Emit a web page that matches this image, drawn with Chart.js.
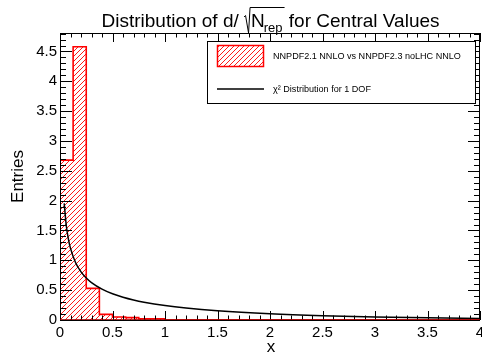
<!DOCTYPE html>
<html><head><meta charset="utf-8">
<script src="https://cdn.jsdelivr.net/npm/chart.js@4.4.1/dist/chart.umd.min.js"></script>
<style>html,body{margin:0;padding:0;background:#fff;overflow:hidden}canvas{display:block}</style>
</head><body>
<canvas id="c" width="482" height="359"></canvas>
<script>
// ---- data ----
const binEdges = [0, 0.125, 0.25, 0.375, 0.5, 0.625, 0.75, 0.875, 1.0];
const binValues = [2.68, 4.58, 0.53, 0.095, 0.05, 0.04, 0.02, 0.02];
const chi2X = [0.04, 0.06, 0.08, 0.1, 0.15, 0.2, 0.25, 0.3, 0.4, 0.5, 0.6, 0.7, 0.8, 1.0, 1.2, 1.5, 2.0, 2.5, 3.0, 3.5, 4.0];
const chi2Y = [1.955, 1.58, 1.355, 1.2, 0.956, 0.807, 0.704, 0.627, 0.517, 0.439, 0.382, 0.336, 0.299, 0.242, 0.2, 0.154, 0.104, 0.072, 0.051, 0.037, 0.027];
const xTicks = [0, 0.5, 1, 1.5, 2, 2.5, 3, 3.5, 4];
const yTicks = [0, 0.5, 1, 1.5, 2, 2.5, 3, 3.5, 4, 4.5];
const xRange = [0, 4];
const yRange = [0, 4.81];
const histLabel = "NNPDF2.1 NNLO vs NNPDF2.3 noLHC NNLO";
const curveLabel = "χ² Distribution for 1 DOF";
const xTitle = "x";
const yTitle = "Entries";
const titleParts = {pre: "Distribution of d/ ", rad: "N", sub: "rep", post: " for Central Values"};

// ---- build ----
const FONT = "'Liberation Sans', Arial, Helvetica, sans-serif";
const histPoints = [{x: binEdges[0], y: 0}];
binValues.forEach((v, i) => histPoints.push({x: binEdges[i], y: v}));
histPoints.push({x: binEdges[binEdges.length - 1], y: 0});
histPoints.push({x: xRange[1], y: 0});
const curvePoints = chi2X.map((x, i) => ({x, y: chi2Y[i]}));

function hatch() {
  const p = document.createElement('canvas');
  p.width = 5; p.height = 5;
  const g = p.getContext('2d');
  g.strokeStyle = '#ff0000'; g.lineWidth = 0.9;
  g.beginPath();
  g.moveTo(0, 5); g.lineTo(5, 0);
  g.moveTo(-1, 1); g.lineTo(1, -1);
  g.moveTo(4, 6); g.lineTo(6, 4);
  g.stroke();
  return document.getElementById('c').getContext('2d').createPattern(p, 'repeat');
}
const hatchPattern = hatch();

function minorRange(a, b, step) {
  const out = [];
  const n = Math.round((b - a) / step);
  for (let i = 0; i <= n; i++) out.push(+(a + i * step).toFixed(6));
  return out;
}
const fmt = v => String(+(+v).toFixed(2));

const decor = {
  id: 'decor',
  afterDatasetsDraw(chart) {
    const ctx = chart.ctx, ca = chart.chartArea;
    const xs = chart.scales.x, ys = chart.scales.y;
    ctx.save();
    ctx.strokeStyle = '#000'; ctx.lineWidth = 1;
    ctx.strokeRect(ca.left + 0.5, ca.top + 0.5, ca.right - ca.left - 1, ca.bottom - ca.top);
    ctx.beginPath();
    minorRange(xRange[0], xRange[1], 0.1).forEach(v => {
      const px = Math.round(xs.getPixelForValue(v)) + 0.5;
      const major = xTicks.some(t => Math.abs(t - v) < 1e-6);
      const L = major ? 9 : 4.5;
      ctx.moveTo(px, ca.bottom); ctx.lineTo(px, ca.bottom - L);
      ctx.moveTo(px, ca.top); ctx.lineTo(px, ca.top + L);
    });
    minorRange(yRange[0], 4.8, 0.1).forEach(v => {
      const py = Math.round(ys.getPixelForValue(v)) + 0.5;
      const major = yTicks.some(t => Math.abs(t - v) < 1e-6);
      const L = major ? 12 : 6;
      ctx.moveTo(ca.left, py); ctx.lineTo(ca.left + L, py);
      ctx.moveTo(ca.right, py); ctx.lineTo(ca.right - L, py);
    });
    ctx.stroke();
    ctx.strokeStyle = 'rgba(160,0,0,0.8)';
    ctx.beginPath();
    ctx.moveTo(ca.left, ca.bottom - 0.5); ctx.lineTo(ca.right, ca.bottom - 0.5);
    ctx.stroke();
    ctx.restore();
  },
  afterDraw(chart) {
    const ctx = chart.ctx, ca = chart.chartArea;
    ctx.save();
    ctx.fillStyle = '#000';
    ctx.font = '17px ' + FONT;
    ctx.textAlign = 'center'; ctx.textBaseline = 'middle';
    ctx.fillText(xTitle, (ca.left + ca.right) / 2 + 1, 347);
    ctx.save();
    ctx.translate(18, (ca.top + ca.bottom) / 2);
    ctx.rotate(-Math.PI / 2);
    ctx.fillText(yTitle, 0, 0);
    ctx.restore();

    // title
    const big = '19px ' + FONT, small = '13px ' + FONT;
    ctx.textAlign = 'left'; ctx.textBaseline = 'alphabetic';
    ctx.font = big;
    const w1 = ctx.measureText(titleParts.pre).width;
    const wN = ctx.measureText(titleParts.rad).width;
    const w3 = ctx.measureText(titleParts.post).width;
    ctx.font = small;
    const wS = ctx.measureText(titleParts.sub).width;
    const radW = 7;
    const total = w1 + radW + wN + wS + w3;
    let x = 270.5 - total / 2;
    const base = 27;
    ctx.font = big;
    ctx.fillText(titleParts.pre, x, base);
    x += w1;
    ctx.strokeStyle = '#000'; ctx.lineWidth = 1;
    ctx.beginPath();
    ctx.moveTo(x, 17); ctx.lineTo(x + 1.5, 15.5);
    ctx.lineTo(x + 4.5, 33); ctx.lineTo(x + 6, 7.5);
    ctx.lineTo(x + radW + wN + wS + 1, 7.5);
    ctx.stroke();
    x += radW;
    ctx.fillText(titleParts.rad, x, base);
    x += wN - 1;
    ctx.font = small;
    ctx.fillText(titleParts.sub, x, base + 5);
    x += wS + 1;
    ctx.font = big;
    ctx.fillText(titleParts.post, x, base);

    // legend
    const lx = 207, ly = 41, lw = 268, lh = 62;
    ctx.fillStyle = '#fff';
    ctx.fillRect(lx, ly, lw, lh);
    ctx.strokeStyle = '#000'; ctx.lineWidth = 1;
    ctx.strokeRect(lx + 0.5, ly + 0.5, lw, lh);
    ctx.fillStyle = hatchPattern;
    ctx.fillRect(217, 45, 47, 22);
    ctx.strokeStyle = '#ff0000'; ctx.lineWidth = 1.5;
    ctx.strokeRect(217.5, 45.5, 46, 21);
    ctx.strokeStyle = '#000'; ctx.lineWidth = 1.5;
    ctx.beginPath(); ctx.moveTo(217, 89); ctx.lineTo(264, 89); ctx.stroke();
    ctx.fillStyle = '#000';
    ctx.font = '10px ' + FONT;
    const w10 = ctx.measureText(histLabel).width;
    const fs = Math.min(10, 10 * 188 / w10);
    ctx.font = fs.toFixed(2) + 'px ' + FONT;
    ctx.textBaseline = 'middle';
    ctx.fillText(histLabel, 273, 56.5);
    ctx.fillText(curveLabel, 273, 89.5);
    ctx.restore();
  }
};

new Chart(document.getElementById('c'), {
  type: 'line',
  data: {
    datasets: [
      {
        label: histLabel,
        data: histPoints,
        stepped: 'before',
        borderColor: '#ff0000',
        borderWidth: 1.6,
        backgroundColor: hatchPattern,
        fill: 'origin',
        pointRadius: 0,
        order: 2
      },
      {
        label: curveLabel,
        data: curvePoints,
        borderColor: '#000000',
        borderWidth: 1.5,
        cubicInterpolationMode: 'monotone',
        pointRadius: 0,
        fill: false,
        order: 1
      }
    ]
  },
  options: {
    responsive: false,
    animation: false,
    devicePixelRatio: 1,
    layout: {padding: {top: 33, right: 2, left: 0, bottom: 0}},
    plugins: {legend: {display: false}, tooltip: {enabled: false}, title: {display: false}},
    scales: {
      x: {
        type: 'linear', min: xRange[0], max: xRange[1],
        grid: {display: false, drawTicks: false}, border: {display: false},
        ticks: {font: {size: 15, family: FONT}, color: '#000', padding: 4, maxRotation: 0, autoSkip: false, callback: fmt},
        afterBuildTicks: s => { s.ticks = xTicks.map(v => ({value: v})); },
        afterFit: s => { s.height = 39; s.paddingLeft = 0; s.paddingRight = 0; }
      },
      y: {
        type: 'linear', min: yRange[0], max: yRange[1],
        grid: {display: false, drawTicks: false}, border: {display: false},
        ticks: {font: {size: 15, family: FONT}, color: '#000', padding: 3, autoSkip: false, callback: fmt},
        afterBuildTicks: s => { s.ticks = yTicks.map(v => ({value: v})); },
        afterFit: s => { s.width = 60; s.paddingTop = 0; s.paddingBottom = 0; }
      }
    }
  },
  plugins: [decor]
});
</script>
</body></html>
